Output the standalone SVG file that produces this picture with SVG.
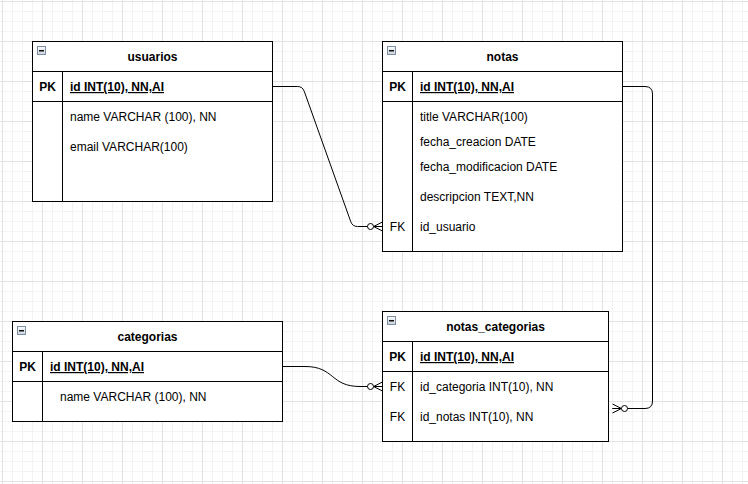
<svg xmlns="http://www.w3.org/2000/svg" width="748" height="484" viewBox="0 0 748 484">
<style>
 .box{fill:#fff;stroke:#000;stroke-width:1}
 .ln{stroke:#000;stroke-width:1;fill:none}
 text{font-family:"Liberation Sans",Arial,sans-serif;font-size:12px;fill:#000}
 .t{font-weight:bold;text-anchor:middle}
 .pk{font-weight:bold;text-anchor:middle}
 .fk{text-anchor:middle}
 .key{font-weight:bold;text-decoration:underline}
 .edge{fill:none;stroke:#000;stroke-width:1;marker-end:url(#zm)}
</style>
<defs>
 <pattern id="grid" patternUnits="userSpaceOnUse" x="2" y="1" width="40" height="40">
  <path d="M10.5 0V40M20.5 0V40M30.5 0V40M0 10.5H40M0 20.5H40M0 30.5H40" stroke="#f3f3f3" fill="none"/>
  <path d="M0.5 0V40M0 0.5H40" stroke="#e2e2e2" fill="none"/>
 </pattern>
 <linearGradient id="ig" x1="0" y1="0" x2="0" y2="1"><stop offset="0" stop-color="#fdfdfd"/><stop offset="1" stop-color="#c9d3de"/></linearGradient>
 <g id="icon"><rect x="0.5" y="0.5" width="8" height="8" fill="url(#ig)" stroke="#7d8ea3"/><rect x="2" y="4" width="5" height="1.5" fill="#111"/></g>
 <marker id="zm" markerUnits="userSpaceOnUse" orient="auto" markerWidth="1" markerHeight="1" refX="0" refY="0" overflow="visible">
  <path d="M-9 0L0 -4.5M-9 0L0 0M-9 0L0 4.5" stroke="#000" fill="none"/>
  <circle cx="-12" cy="0" r="3" fill="#fff" stroke="#000"/>
 </marker>
</defs>
<rect width="748" height="484" fill="#fff"/>
<rect width="748" height="484" fill="url(#grid)"/>

<g id="connectors">
 <path class="edge" d="M272.5 86.5L297.5 86.5Q302.5 86.5 304.2 91.2L350.8 221.8Q352.5 226.5 357.5 226.5L382.5 226.5"/>
 <path class="edge" d="M282.5 366.5L305 366.5C335 366.5 330 386.5 360 386.5L382.5 386.5"/>
 <path class="edge" d="M622.5 86.5L645 86.5Q652.5 86.5 652.5 94L652.5 401Q652.5 408.5 645 408.5L612.5 408.5"/>
</g>

<g id="usuarios">
 <rect class="box" x="32.5" y="41.5" width="240" height="160"/>
 <path class="ln" d="M32.5 71.5H272.5M32.5 101.5H272.5M62.5 71.5V201.5"/>
 <use href="#icon" x="37" y="46"/>
 <text class="t" x="152.5" y="61">usuarios</text>
 <text class="pk" x="47.5" y="91">PK</text>
 <text class="key" x="70" y="91">id INT(10), NN,AI</text>
 <text x="70" y="121">name VARCHAR (100), NN</text>
 <text x="70" y="151">email VARCHAR(100)</text>
</g>

<g id="notas">
 <rect class="box" x="382.5" y="41.5" width="240" height="210"/>
 <path class="ln" d="M382.5 71.5H622.5M382.5 101.5H622.5M412.5 71.5V251.5"/>
 <use href="#icon" x="387" y="46"/>
 <text class="t" x="502.5" y="61">notas</text>
 <text class="pk" x="397.5" y="91">PK</text>
 <text class="key" x="420" y="91">id INT(10), NN,AI</text>
 <text x="420" y="121">title VARCHAR(100)</text>
 <text x="420" y="146">fecha_creacion DATE</text>
 <text x="420" y="171">fecha_modificacion DATE</text>
 <text x="420" y="201">descripcion TEXT,NN</text>
 <text class="fk" x="397.5" y="231">FK</text>
 <text x="420" y="231">id_usuario</text>
</g>

<g id="categorias">
 <rect class="box" x="12.5" y="321.5" width="270" height="100"/>
 <path class="ln" d="M12.5 351.5H282.5M12.5 381.5H282.5M42.5 351.5V421.5"/>
 <use href="#icon" x="17" y="326"/>
 <text class="t" x="147.5" y="341">categorias</text>
 <text class="pk" x="27.5" y="371">PK</text>
 <text class="key" x="50" y="371">id INT(10), NN,AI</text>
 <text x="60" y="401">name VARCHAR (100), NN</text>
</g>

<g id="notas_categorias">
 <rect class="box" x="382.5" y="311.5" width="226" height="130"/>
 <path class="ln" d="M382.5 341.5H608.5M382.5 371.5H608.5M412.5 341.5V441.5"/>
 <use href="#icon" x="387" y="316"/>
 <text class="t" x="495.5" y="331">notas_categorias</text>
 <text class="pk" x="397.5" y="361">PK</text>
 <text class="key" x="420" y="361">id INT(10), NN,AI</text>
 <text class="fk" x="397.5" y="391">FK</text>
 <text x="420" y="391">id_categoria INT(10), NN</text>
 <text class="fk" x="397.5" y="421">FK</text>
 <text x="420" y="421">id_notas INT(10), NN</text>
</g>
</svg>
